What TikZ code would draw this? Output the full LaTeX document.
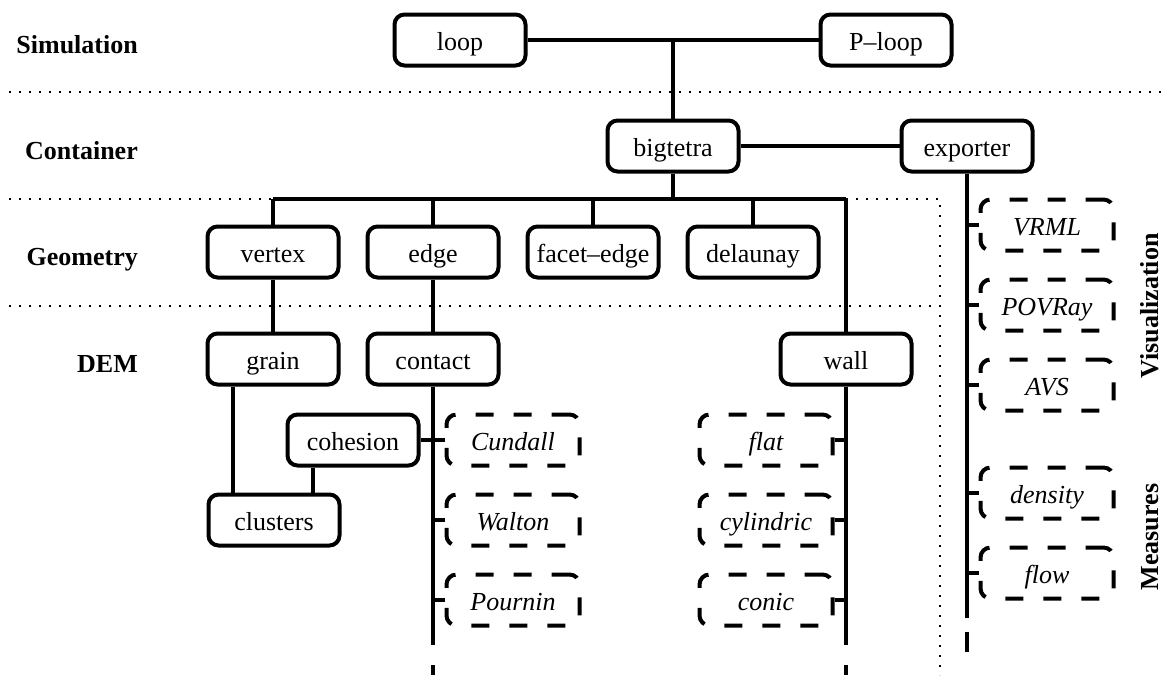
\documentclass[tikz,border=0pt]{standalone}
\usepackage{fontspec}
\setmainfont{Liberation Serif}
\begin{document}
\begin{tikzpicture}[x=1pt,y=-1pt,
  txt/.style={font=\fontsize{26}{30}\selectfont},
  box/.style={txt, draw, line width=4pt, rounded corners=10pt, minimum width=131pt,
    minimum height=51pt, inner sep=0pt, text height=24pt, text depth=3pt},
  dbox/.style={box, minimum width=133pt, dash pattern=on 18pt off 20pt,
    font=\fontsize{26}{30}\selectfont\itshape},
  conn/.style={line width=4pt},
  dotl/.style={line width=2.4pt, dash pattern=on 2.4pt off 7.6pt},
  lbl/.style={font=\fontsize{26}{30}\selectfont\bfseries, anchor=base east, inner sep=0pt},
  rlbl/.style={font=\fontsize{26}{30}\selectfont\bfseries, rotate=90, inner sep=0pt}]
\useasboundingbox (0,0) rectangle (1167,675);

% dotted separators
\draw[dotl] (9,92) -- (1167,92);
\draw[dotl] (9,199) -- (273,199);
\draw[dotl] (846,199) -- (940,199) -- (940,675);
\draw[dotl] (9,306) -- (940,306);

% layer labels
\node[lbl] (lsim) at (138,53.5) {Simulation};
\node[lbl] (lcon) at (138,159.5) {Container};
\node[lbl] (lgeo) at (138,265.5) {Geometry};
\node[lbl] (ldem) at (138,372.5) {DEM};
\node[rlbl] (lvis) at (1150,306) {Visualization};
\node[rlbl] (lmea) at (1150,537) {Measures};

% nodes
\node[box] (loop) at (460,40) {loop};
\node[box] (ploop) at (886,40) {P--loop};
\node[box] (bigtetra) at (673,146) {bigtetra};
\node[box] (exporter) at (967,146) {exporter};
\node[box] (vertex) at (273,252) {vertex};
\node[box] (edge) at (433,252) {edge};
\node[box] (facet) at (593,252) {facet--edge};
\node[box] (delaunay) at (753,252) {delaunay};
\node[box] (grain) at (273,359) {grain};
\node[box] (contact) at (433,359) {contact};
\node[box] (wall) at (846,359) {wall};
\node[box] (cohesion) at (353,440) {cohesion};
\node[box] (clusters) at (274,520) {clusters};
\node[dbox] (cundall) at (513,440) {Cundall};
\node[dbox] (walton) at (513,520) {Walton};
\node[dbox] (pournin) at (513,600) {Pournin};
\node[dbox] (flat) at (766,440) {flat};
\node[dbox] (cyl) at (766,520) {cylindric};
\node[dbox] (conic) at (766,600) {conic};
\node[dbox] (vrml) at (1047,225) {VRML};
\node[dbox] (povray) at (1047,305) {POVRay};
\node[dbox] (avs) at (1047,385) {AVS};
\node[dbox] (density) at (1047,493) {density};
\node[dbox] (flow) at (1047,573) {flow};

% coordinates
\coordinate (busL) at (273,199);
\coordinate (busR) at (846,199);
\coordinate (cEnd) at (433,645);
\coordinate (cDa) at (433,665);
\coordinate (cDb) at (433,675);
\coordinate (wEnd) at (846,645);
\coordinate (wDa) at (846,665);
\coordinate (wDb) at (846,675);
\coordinate (eEnd) at (967,618);
\coordinate (eDa) at (967,632);
\coordinate (eDb) at (967,652);
\coordinate (gOff) at (233,387);

% connectors
\draw[conn] (loop.east) -- (ploop.west);
\draw[conn] (bigtetra.north) -- (bigtetra.north |- loop.east);
\draw[conn] (bigtetra.east) -- (exporter.west);
\draw[conn] (bigtetra.south) -- (bigtetra.south |- busL);
\draw[conn] (busL) -- (busR);
\draw[conn] (vertex.north) -- (vertex.north |- busL);
\draw[conn] (edge.north) -- (edge.north |- busL);
\draw[conn] (facet.north) -- (facet.north |- busL);
\draw[conn] (delaunay.north) -- (delaunay.north |- busL);
\draw[conn] (busR) -- (wall.north);
\draw[conn] (vertex.south) -- (grain.north);
\draw[conn] (edge.south) -- (contact.north);
\draw[conn] (gOff) -- (gOff |- clusters.north);
\draw[conn] (cohesion.south -| 313,0) -- (clusters.north -| 313,0);
\draw[conn] (contact.south) -- (cEnd);
\draw[conn] (cDa) -- (cDb);
\draw[conn] (wall.south) -- (wEnd);
\draw[conn] (wDa) -- (wDb);
\draw[conn] (exporter.south) -- (eEnd);
\draw[conn] (eDa) -- (eDb);
\draw[conn] (cohesion.east) -- (cohesion.east -| contact.south);
\draw[conn] (cundall.west) -- (cundall.west -| contact.south);
\draw[conn] (walton.west) -- (walton.west -| contact.south);
\draw[conn] (pournin.west) -- (pournin.west -| contact.south);
\draw[conn] (flat.east) -- (flat.east -| wall.south);
\draw[conn] (cyl.east) -- (cyl.east -| wall.south);
\draw[conn] (conic.east) -- (conic.east -| wall.south);
\draw[conn] (vrml.west) -- (vrml.west -| exporter.south);
\draw[conn] (povray.west) -- (povray.west -| exporter.south);
\draw[conn] (avs.west) -- (avs.west -| exporter.south);
\draw[conn] (density.west) -- (density.west -| exporter.south);
\draw[conn] (flow.west) -- (flow.west -| exporter.south);
\end{tikzpicture}
\end{document}
